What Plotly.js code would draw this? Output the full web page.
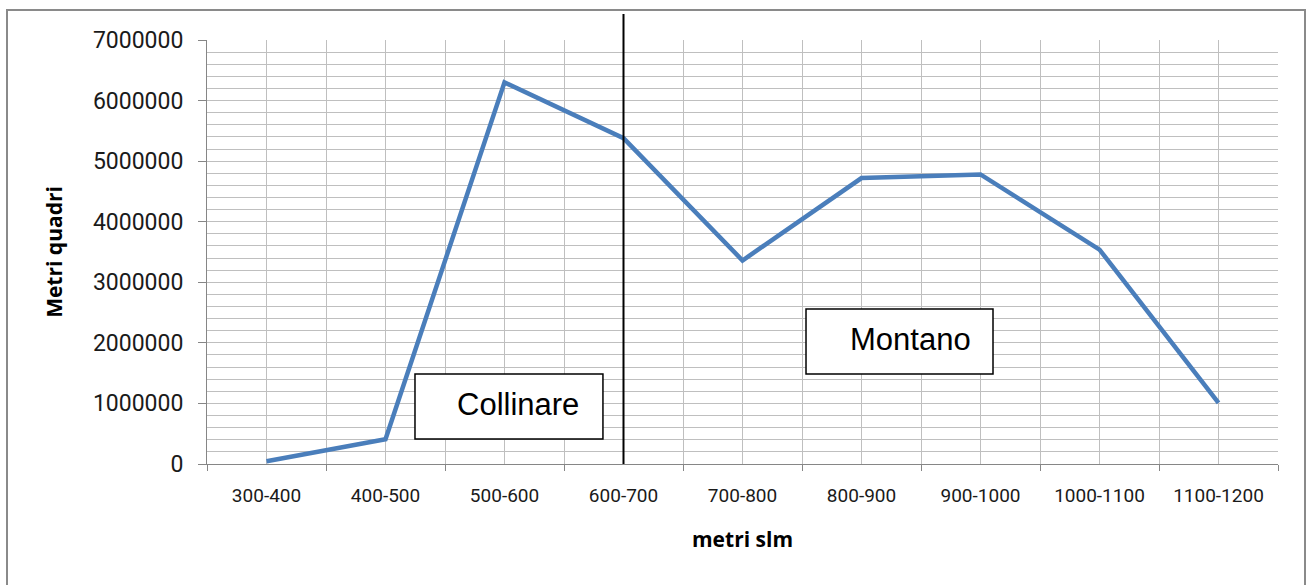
<!DOCTYPE html>
<html>
<head>
<meta charset="utf-8">
<script src="https://cdn.plot.ly/plotly-3.0.1.min.js"></script>
<style>
  html, body { margin: 0; padding: 0; background: #ffffff; }
  #chart { width: 1308px; height: 585px; }
</style>
</head>
<body>
<div id="chart"></div>
<script>
// Elevation bands (metres above sea level)
const categories = ["300-400", "400-500", "500-600", "600-700", "700-800", "800-900", "900-1000", "1000-1100", "1100-1200"];
// Surface area in square metres for each band
const areaValues = [45000, 410000, 6300000, 5380000, 3360000, 4720000, 4780000, 3540000, 1010000];
// Y-axis tick values
const yTickVals = [0, 1000000, 2000000, 3000000, 4000000, 5000000, 6000000, 7000000];
const yTickText = ["0", "1000000", "2000000", "3000000", "4000000", "5000000", "6000000", "7000000"];
// Zone labels and the band where the boundary between them is drawn
const zoneLabels = ["Collinare", "Montano"];
const boundaryCategory = categories[3];

const gridColor = "#bfbfbf";
const axisColor = "#868686";

const traces = [
  {
    type: "scatter",
    mode: "lines",
    x: categories,
    y: areaValues,
    line: { color: "#4a7ebb", width: 4.5 },
    xaxis: "x",
    yaxis: "y",
    showlegend: false,
    hoverinfo: "x+y"
  },
  {
    // helper copy on the overlaying axis so that its centre gridlines are drawn
    type: "scatter",
    mode: "lines",
    x: categories,
    y: areaValues,
    line: { color: "rgba(0,0,0,0)", width: 0 },
    xaxis: "x2",
    yaxis: "y",
    showlegend: false,
    hoverinfo: "skip"
  }
];

const layout = {
  width: 1308,
  height: 585,
  margin: { l: 207, r: 30, t: 40, b: 121 },
  paper_bgcolor: "#ffffff",
  plot_bgcolor: "#ffffff",
  showlegend: false,
  xaxis: {
    type: "category",
    categoryorder: "array",
    categoryarray: categories,
    range: [-0.5, categories.length - 0.5],
    tickson: "boundaries",
    ticks: "outside",
    ticklen: 6,
    tickwidth: 1,
    tickcolor: axisColor,
    showgrid: true,
    gridcolor: gridColor,
    gridwidth: 1,
    showline: true,
    linecolor: axisColor,
    linewidth: 1,
    zeroline: false,
    tickfont: { family: "Roboto, 'DejaVu Sans', sans-serif", size: 19, color: "#1a1a1a" },
    ticklabelstandoff: 14,
    title: {
      text: "metri slm",
      font: { family: "'Open Sans', 'DejaVu Sans', sans-serif", size: 21, color: "#000000", weight: "bold" },
      standoff: 26
    },
    fixedrange: true
  },
  xaxis2: {
    type: "category",
    categoryorder: "array",
    categoryarray: categories,
    range: [-0.5, categories.length - 0.5],
    overlaying: "x",
    side: "bottom",
    showgrid: true,
    gridcolor: gridColor,
    gridwidth: 1,
    ticks: "",
    showticklabels: false,
    showline: false,
    zeroline: false,
    fixedrange: true
  },
  yaxis: {
    range: [0, 7000000],
    tickmode: "array",
    tickvals: yTickVals,
    ticktext: yTickText,
    ticks: "outside",
    ticklen: 8,
    tickwidth: 1,
    tickcolor: axisColor,
    showgrid: true,
    gridcolor: gridColor,
    gridwidth: 1,
    minor: { dtick: 200000, tick0: 0, showgrid: true, gridcolor: gridColor, gridwidth: 1, ticks: "" },
    showline: true,
    linecolor: axisColor,
    linewidth: 1,
    zeroline: false,
    tickfont: { family: "Roboto, 'DejaVu Sans', sans-serif", size: 23, color: "#1a1a1a" },
    ticklabelstandoff: 10,
    title: {
      text: "Metri quadri",
      font: { family: "'Open Sans', 'DejaVu Sans', sans-serif", size: 21, color: "#000000", weight: "bold" },
      standoff: 24
    },
    fixedrange: true
  },
  shapes: [
    // outer chart border
    {
      type: "rect", xref: "paper", yref: "paper",
      x0: -0.18674, x1: 1.02521, y0: -0.30, y1: 1.0708,
      line: { color: "#8a8a8a", width: 2 },
      fillcolor: "rgba(0,0,0,0)",
      layer: "above"
    },
    // boundary line between zones
    {
      type: "line", xref: "x", yref: "paper",
      x0: boundaryCategory, x1: boundaryCategory, y0: 0, y1: 1.0613,
      line: { color: "#000000", width: 2 },
      layer: "above"
    },
    // Collinare box
    {
      type: "rect", xref: "paper", yref: "paper",
      x0: 0.1942, x1: 0.3697, y0: 0.0590, y1: 0.2123,
      line: { color: "#000000", width: 1.5 },
      fillcolor: "#ffffff",
      layer: "above"
    },
    // Montano box
    {
      type: "rect", xref: "paper", yref: "paper",
      x0: 0.5593, x1: 0.7339, y0: 0.2123, y1: 0.3656,
      line: { color: "#000000", width: 1.5 },
      fillcolor: "#ffffff",
      layer: "above"
    }
  ],
  annotations: [
    {
      text: zoneLabels[0], xref: "paper", yref: "paper",
      x: 0.2904, y: 0.1415, xanchor: "center", yanchor: "middle",
      showarrow: false,
      font: { family: "'Liberation Sans', Arial, sans-serif", size: 31, color: "#000000" }
    },
    {
      text: zoneLabels[1], xref: "paper", yref: "paper",
      x: 0.6573, y: 0.2925, xanchor: "center", yanchor: "middle",
      showarrow: false,
      font: { family: "'Liberation Sans', Arial, sans-serif", size: 31, color: "#000000" }
    }
  ]
};

Plotly.newPlot("chart", traces, layout, { displayModeBar: false, staticPlot: true });
</script>
</body>
</html>
